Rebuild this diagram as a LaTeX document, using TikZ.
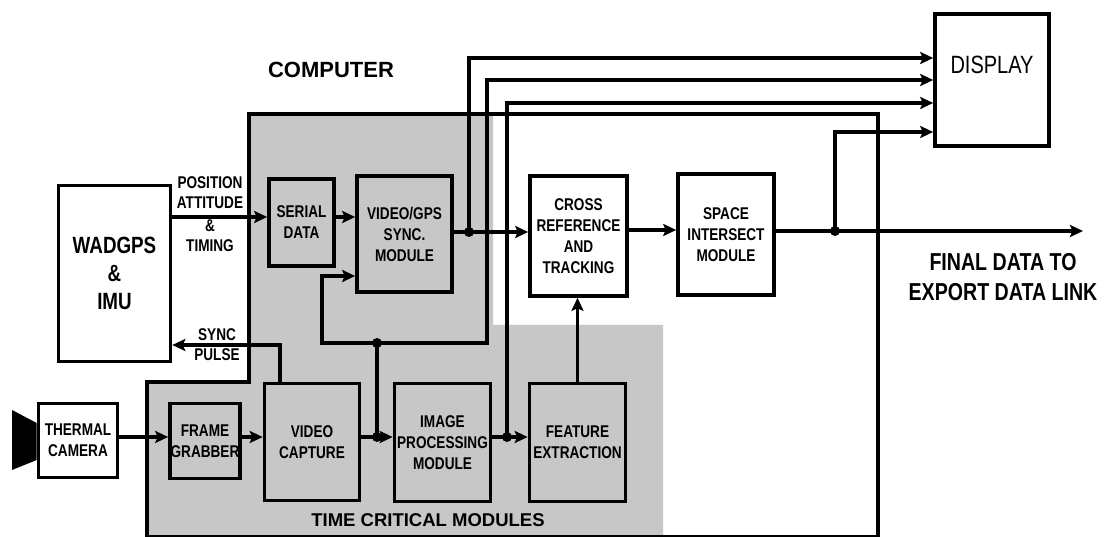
\documentclass[tikz,border=0pt]{standalone}
\usepackage{fontspec}
\setmainfont{Liberation Sans}
\newfontfamily\narrowfont[FakeStretch = 0.8]{Liberation Sans}
\usepackage{tikz}
\usetikzlibrary{arrows.meta}

\definecolor{panelgray}{RGB}{199, 199, 199}

\newcommand{\boxfont}{\narrowfont\bfseries\fontsize{17}{21}\selectfont}
\newcommand{\tagfont}{\narrowfont\bfseries\fontsize{17}{20}\selectfont}
\newcommand{\bigfont}{\narrowfont\bfseries\fontsize{23.5}{28}\selectfont}

\begin{document}
\begin{tikzpicture}[x = 1pt, y = -1pt,
  block/.style = {draw, line width = 3.6pt, inner sep = 0pt, align = center, font = \boxfont},
  wire/.style = {line width = 3.6pt},
  flow/.style = {line width = 3.6pt, -{Stealth[length = 13pt, width = 12pt, inset = 2.5pt]}},
  dot/.style = {circle, fill, inner sep = 0pt, minimum size = 10pt},
  tag/.style = {inner sep = 0pt, align = center, font = \tagfont}]

\useasboundingbox (0, 0) rectangle (1104, 537);

\fill[panelgray] (249, 114) -- (493, 114) -- (493, 325) -- (663, 325) -- (663, 537) -- (147, 537) -- (147, 382) -- (249, 382) -- cycle;
\draw[wire] (249, 114) -- (878, 114) -- (878, 537) -- (147, 537) -- (147, 382) -- (249, 382) -- cycle;

\node (wad) at (114.5, 273.5) [block, minimum width = 112pt, minimum height = 176pt, font = \bigfont] {WADGPS\\\&\\IMU};
\node (cam) at (78, 440.5) [block, minimum width = 79pt, minimum height = 74pt] {THERMAL\\CAMERA};
\node (frame) at (205, 441) [block, minimum width = 70pt, minimum height = 75pt] {FRAME\\GRABBER};
\node (vcap) at (312, 442) [block, minimum width = 95pt, minimum height = 117pt] {VIDEO\\CAPTURE};
\node (improc) at (442.5, 442.5) [block, minimum width = 96pt, minimum height = 118pt] {IMAGE\\PROCESSING\\MODULE};
\node (feat) at (577.5, 442.5) [block, minimum width = 96pt, minimum height = 118pt] {FEATURE\\EXTRACTION};
\node (serial) at (301.5, 222.5) [block, minimum width = 65pt, minimum height = 87pt] {SERIAL\\DATA};
\node (vgps) at (404.5, 234) [block, minimum width = 95pt, minimum height = 116pt] {VIDEO/GPS\\SYNC.\\MODULE};
\node (cross) at (578.5, 236) [block, minimum width = 97pt, minimum height = 120pt] {CROSS\\REFERENCE\\AND\\TRACKING};
\node (space) at (726, 234.5) [block, minimum width = 96pt, minimum height = 121pt] {SPACE\\INTERSECT\\MODULE};
\node (disp) at (992, 80) [block, minimum width = 114pt, minimum height = 132pt,
  label = {[anchor = center, yshift = -53pt, font = \narrowfont\fontsize{25}{30}\selectfont]north:DISPLAY}] {};

% camera lens
\fill (12, 410) -- (cam.west |- 0, 423) -- (cam.west |- 0, 460) -- (12, 470) -- cycle;

\node (j1) at (469, 232) [dot] {};
\node (j2) at (377, 437) [dot] {};
\node (j3) at (507, 437) [dot] {};
\node (j4) at (377, 343) [dot] {};
\node (j5) at (835, 231) [dot] {};
\coordinate (out) at (1083, 231);

\draw[flow] (wad.east |- 0, 217) -- (serial.west |- 0, 217);
\draw[flow] (serial.east |- 0, 217) -- (vgps.west |- 0, 217);
\draw[flow] (vgps.east |- 0, 232) -- (cross.west |- 0, 232);
\draw[flow] (cross.east |- 0, 230) -- (space.west |- 0, 230);
\draw[flow] (space.east |- 0, 231) -- (out);
\draw[flow] (j5.center) |- (disp.west |- 0, 132);
\draw[flow] (j1.center) |- (disp.west |- 0, 58);
\draw[flow] (j3.center) |- (disp.west |- 0, 103);
\draw[wire] (j2.center) -- (j4.center);
\draw[flow] (j4.center) -| (322, 276) -- (vgps.west |- 0, 276);
\draw[flow] (j4.center) -| (487, 80) -- (disp.west |- 0, 80);
\draw[flow] (cam.east |- 0, 437) -- (frame.west |- 0, 437);
\draw[flow] (frame.east |- 0, 437) -- (vcap.west |- 0, 437);
\draw[flow] (vcap.east |- 0, 437) -- (improc.west |- 0, 437);
\draw[flow] (improc.east |- 0, 437) -- (feat.west |- 0, 437);
\draw[flow] (feat.north) -- (feat.north |- cross.south);
\draw[flow] (280, 0 |- vcap.north) |- (wad.east |- 0, 345);

\node (pos) at (210, 193) [tag] {POSITION\\ATTITUDE};
\node (tim) at (210, 235.5) [tag] {\&\\TIMING};
\node (sync) at (217, 335) [tag] {SYNC};
\node (pulse) at (217, 355) [tag] {PULSE};

\node (comp) at (331, 70) [font = \bfseries\fontsize{22}{26}\selectfont] {COMPUTER};
\node (tcm) at (428, 520) [font = \bfseries\fontsize{18.5}{22}\selectfont] {TIME CRITICAL MODULES};
\node (final) at (1003, 277) [align = center, font = \narrowfont\bfseries\fontsize{24.5}{30}\selectfont] {FINAL DATA TO\\EXPORT DATA LINK};

\end{tikzpicture}
\end{document}
